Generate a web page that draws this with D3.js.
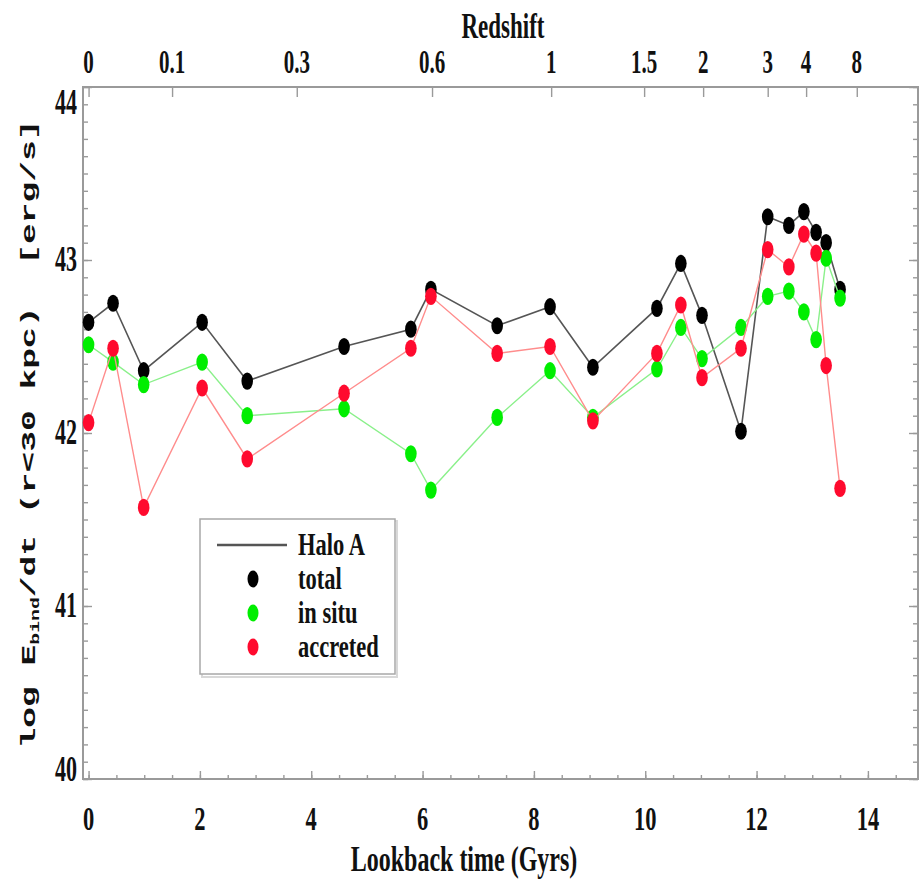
<!DOCTYPE html>
<html><head><meta charset="utf-8">
<script src="https://cdn.jsdelivr.net/npm/d3@7"></script>
<style>
html,body{margin:0;padding:0;background:#fff;}
svg{display:block;}
text{font-family:"Liberation Serif","DejaVu Serif",serif;fill:#111;}
</style></head>
<body>
<svg id="chart" width="919" height="883"></svg>
<script>
// ---- data ----
const lookbackTime = [0.0, 0.44, 0.99, 2.04, 2.85, 4.59, 5.79, 6.15, 7.34, 8.29, 9.06, 10.21, 10.64, 11.02, 11.72, 12.20, 12.58, 12.85, 13.07, 13.25, 13.50];
const totalValues   = [42.64, 42.75, 42.36, 42.64, 42.30, 42.50, 42.60, 42.83, 42.62, 42.73, 42.38, 42.72, 42.98, 42.68, 42.01, 43.25, 43.20, 43.28, 43.16, 43.10, 42.83];
const inSituValues  = [42.51, 42.41, 42.28, 42.41, 42.10, 42.14, 41.88, 41.67, 42.09, 42.36, 42.09, 42.37, 42.61, 42.43, 42.61, 42.79, 42.82, 42.70, 42.54, 43.01, 42.78];
const accretedValues= [42.06, 42.49, 41.57, 42.26, 41.85, 42.23, 42.49, 42.79, 42.46, 42.50, 42.07, 42.46, 42.74, 42.32, 42.49, 43.06, 42.96, 43.15, 43.04, 42.39, 41.68];
const xTickValues = [0, 2, 4, 6, 8, 10, 12, 14];
const yTickValues = [40, 41, 42, 43, 44];
const redshiftLabels = ["0", "0.1", "0.3", "0.6", "1", "1.5", "2", "3", "4", "8"];
const redshiftTimes  = [0, 1.50, 3.74, 6.17, 8.31, 9.98, 11.04, 12.20, 12.89, 13.80];
const seriesNames = ["total", "in situ", "accreted"];
const legendTitle = "Halo A";

// ---- layout ----
const L = 83, R = 918, T = 87, B = 779;
const SY = 1.6;
const svg = d3.select("#chart");
const x = d3.scaleLinear().domain([-0.1, 14.9]).range([L, R]);
const y = d3.scaleLinear().domain([40, 44]).range([B, T]);

const frameColor = "#9a9a9a";
const series = [
  {name: seriesNames[0], values: totalValues,    line: "#555555", lw: 1.6, dot: "#000000"},
  {name: seriesNames[1], values: inSituValues,   line: "#8af08a", lw: 1.4, dot: "#00ee00"},
  {name: seriesNames[2], values: accretedValues, line: "#ff8c8c", lw: 1.4, dot: "#ff0a2e"}
];

function stretchedText(g, px, py, str, size, anchor, sy) {
  return g.append("text")
    .attr("transform", `translate(${px},${py}) scale(1,${sy || SY})`)
    .attr("text-anchor", anchor || "middle")
    .style("font-size", size + "px")
    .style("font-weight", "bold")
    .text(str);
}

// ---- ticks via d3 axes ----
function styleAxis(g) {
  g.select(".domain").remove();
  g.selectAll("line").attr("stroke", frameColor).attr("stroke-width", 1.4);
  g.selectAll("text").remove();
}
const minorX = d3.range(0, 14.9, 0.5);
const minorY = d3.range(40, 44.001, 0.1).map(v => +v.toFixed(1));

svg.append("g").attr("transform", `translate(0,${B})`)
  .call(d3.axisBottom(x).tickValues(minorX).tickSize(-4).tickFormat("")).call(styleAxis);
svg.append("g").attr("transform", `translate(0,${B})`)
  .call(d3.axisBottom(x).tickValues(xTickValues).tickSize(-8).tickFormat("")).call(styleAxis);
svg.append("g").attr("transform", `translate(0,${T})`)
  .call(d3.axisTop(x).tickValues(redshiftTimes).tickSize(-10).tickFormat("")).call(styleAxis);
svg.append("g").attr("transform", `translate(${L},0)`)
  .call(d3.axisLeft(y).tickValues(minorY).tickSize(-5).tickFormat("")).call(styleAxis);
svg.append("g").attr("transform", `translate(${L},0)`)
  .call(d3.axisLeft(y).tickValues(yTickValues).tickSize(-9).tickFormat("")).call(styleAxis);
svg.append("g").attr("transform", `translate(${R},0)`)
  .call(d3.axisRight(y).tickValues(minorY).tickSize(-5).tickFormat("")).call(styleAxis);
svg.append("g").attr("transform", `translate(${R},0)`)
  .call(d3.axisRight(y).tickValues(yTickValues).tickSize(-9).tickFormat("")).call(styleAxis);

// frame
svg.append("rect").attr("x", L).attr("y", T).attr("width", R - L).attr("height", B - T)
  .attr("fill", "none").attr("stroke", frameColor).attr("stroke-width", 2);

// ---- tick labels ----
const labels = svg.append("g");
xTickValues.forEach(v => stretchedText(labels, x(v), 830, String(v), 22.5, "middle", 1.5));
redshiftTimes.forEach((t, i) => stretchedText(labels, x(t), 73, redshiftLabels[i], 21));
yTickValues.forEach(v => {
  const cy = Math.max(103, Math.min(770, y(v)));
  stretchedText(labels, 77, cy + 11, String(v), 22, "end");
});

// titles
stretchedText(svg, 503, 38, "Redshift", 23);
stretchedText(svg, 464, 871, "Lookback time (Gyrs)", 24, "middle", 1.45);

const yt = svg.append("text")
  .attr("transform", `translate(35,434) rotate(-90) scale(1.65,1)`)
  .attr("text-anchor", "middle")
  .style("font-family", "'Liberation Mono','DejaVu Sans Mono',monospace")
  .style("font-weight", "bold")
  .style("font-size", "21px")
  .style("white-space", "pre");
yt.append("tspan").text("log E");
yt.append("tspan").attr("dy", 4).style("font-size", "12px").text("bind");
yt.append("tspan").attr("dy", -4).text("/dt (r<30 kpc)  [erg/s]");

// ---- series ----
const line = d3.line().x((d, i) => x(lookbackTime[i])).y(d => y(d));
series.forEach(s => {
  const g = svg.append("g");
  g.append("path").datum(s.values).attr("d", line)
    .attr("fill", "none").attr("stroke", s.line).attr("stroke-width", s.lw);
  g.selectAll("ellipse").data(s.values).join("ellipse")
    .attr("cx", (d, i) => x(lookbackTime[i])).attr("cy", d => y(d))
    .attr("rx", 5.8).attr("ry", 8.6).attr("fill", s.dot);
});

// ---- legend ----
const lg = svg.append("g");
const rowStep = 34;
const legSY = 1.38;
lg.append("rect").attr("x", 202).attr("y", 521).attr("width", 195).attr("height", 156)
  .attr("fill", "none").attr("stroke", "#d8d8d8").attr("stroke-width", 2);
lg.append("rect").attr("x", 200).attr("y", 519).attr("width", 195).attr("height", 155)
  .attr("fill", "#fff").attr("stroke", "#a8a8a8").attr("stroke-width", 1.5);
lg.append("line").attr("x1", 217).attr("x2", 287).attr("y1", 545).attr("y2", 545)
  .attr("stroke", "#555").attr("stroke-width", 2.5);
[legendTitle].concat(seriesNames).forEach((name, i) => {
  stretchedText(lg, 298, 555 + i * rowStep, name, 22.5, "start", legSY);
});
series.forEach((s, i) => {
  lg.append("ellipse").attr("cx", 253).attr("cy", 545 + (i + 1) * rowStep).attr("rx", 5.5).attr("ry", 8.5).attr("fill", s.dot);
});
</script>
</body></html>
